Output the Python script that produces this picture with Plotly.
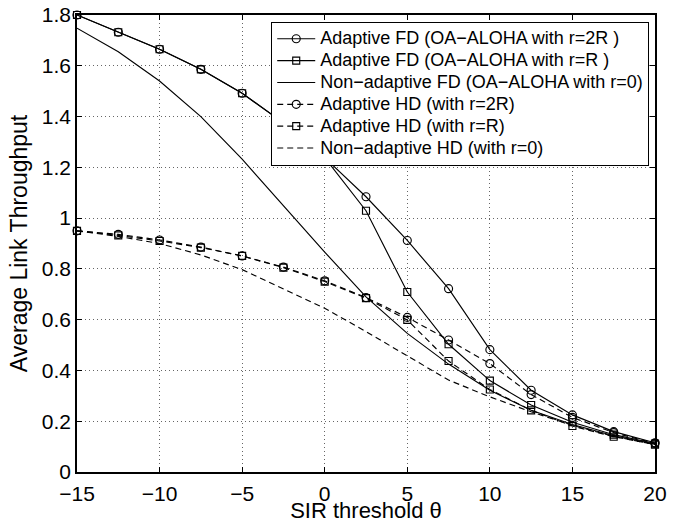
import plotly.graph_objects as go

# SIR threshold (dB)
theta = [-15, -12.5, -10, -7.5, -5, -2.5, 0, 2.5, 5, 7.5, 10, 12.5, 15, 17.5, 20]

# average link throughput
fd_2r = [1.80, 1.732, 1.665, 1.586, 1.492, 1.375, 1.238, 1.084, 0.912, 0.722, 0.482, 0.322, 0.225, 0.159, 0.115]
fd_r = [1.80, 1.732, 1.665, 1.586, 1.492, 1.375, 1.238, 1.029, 0.709, 0.503, 0.360, 0.264, 0.196, 0.147, 0.112]
fd_0 = [1.748, 1.655, 1.540, 1.400, 1.232, 1.050, 0.866, 0.690, 0.546, 0.425, 0.322, 0.243, 0.187, 0.143, 0.110]
hd_2r = [0.950, 0.936, 0.914, 0.886, 0.851, 0.807, 0.753, 0.687, 0.609, 0.520, 0.427, 0.305, 0.215, 0.155, 0.113]
hd_r = [0.950, 0.932, 0.910, 0.884, 0.851, 0.805, 0.750, 0.685, 0.599, 0.437, 0.325, 0.243, 0.181, 0.139, 0.108]
hd_0 = [0.950, 0.928, 0.900, 0.855, 0.797, 0.720, 0.645, 0.553, 0.456, 0.362, 0.296, 0.237, 0.184, 0.140, 0.108]

names = [
    "Adaptive FD (OA\u2212ALOHA with r=2R )",
    "Adaptive FD (OA\u2212ALOHA with r=R )",
    "Non\u2212adaptive FD (OA\u2212ALOHA with r=0)",
    "Adaptive HD (with r=2R)",
    "Adaptive HD (with r=R)",
    "Non\u2212adaptive HD (with r=0)",
]

series = [fd_2r, fd_r, fd_0, hd_2r, hd_r, hd_0]
symbols = ["circle-open", "square-open", None, "circle-open", "square-open", None]
dashes = ["solid", "solid", "solid", "6px,4px", "6px,4px", "6px,4px"]

fig = go.Figure()
for name, y, sym, dash in zip(names, series, symbols, dashes):
    fig.add_trace(go.Scatter(
        x=theta, y=y,
        # bigger text inside a legend with tighter row spacing
        name='<span style="font-size:18px">' + name + '</span>',
        mode="lines+markers" if sym else "lines",
        line=dict(color="black", width=1.15, dash=dash),
        marker=dict(symbol=sym or "circle", size=8 if sym == "circle-open" else 7,
                    color="black", line=dict(width=1.15, color="black")),
        cliponaxis=False,
    ))

axis_common = dict(
    showline=True, linecolor="black", linewidth=1.5, mirror="ticks",
    ticks="inside", ticklen=5, tickcolor="black",
    showgrid=True, gridcolor="#666", griddash="1px,3px", gridwidth=1,
    zeroline=False, automargin=False,
    tickfont=dict(size=21, color="black"),
)

fig.update_xaxes(
    range=[-15, 20], tickvals=[-15, -10, -5, 0, 5, 10, 15, 20],
    ticklabelstandoff=2,
    title=dict(text="SIR threshold \u03b8", font=dict(size=22, color="black"), standoff=4),
    **axis_common,
)
fig.update_yaxes(
    range=[0, 1.8], tickvals=[0, 0.2, 0.4, 0.6, 0.8, 1, 1.2, 1.4, 1.6, 1.8],
    title=dict(text="Average Link Throughput", font=dict(size=23, color="black"), standoff=8),
    **axis_common,
)

fig.update_layout(
    width=682, height=523,
    margin=dict(l=77, r=27, t=15, b=51),
    paper_bgcolor="white", plot_bgcolor="white",
    font=dict(family="Liberation Sans, Arial, sans-serif", color="black"),
    showlegend=True,
    legend=dict(
        x=0.99, y=0.985, xanchor="right", yanchor="top",
        bgcolor="white", bordercolor="black", borderwidth=1,
        font=dict(size=14.5, color="black"),
        itemwidth=38, tracegroupgap=0,
    ),
)

fig.write_html("out.html", config={"displayModeBar": False},
               post_script="document.body.style.margin = '0';")
